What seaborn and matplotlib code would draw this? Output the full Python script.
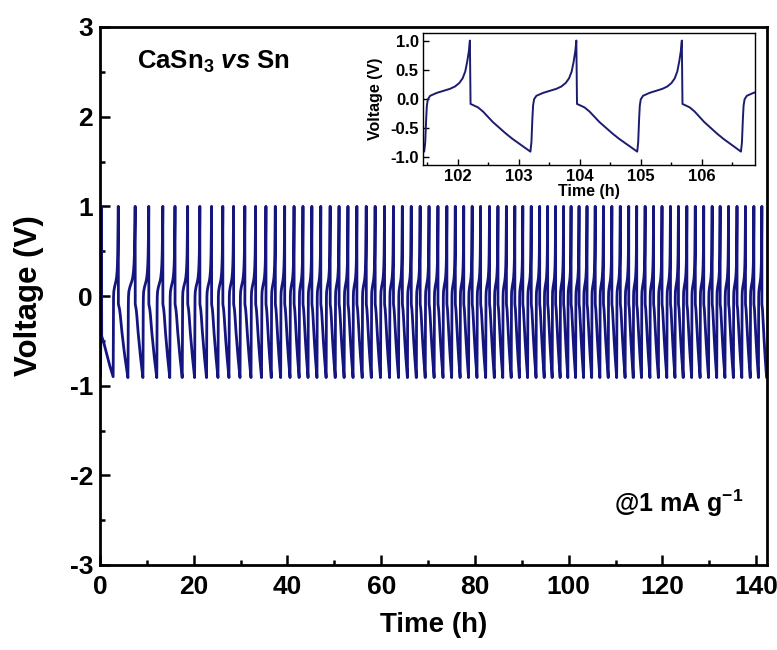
import numpy as np
import pandas as pd
import matplotlib
matplotlib.use("Agg")
import matplotlib.pyplot as plt
from matplotlib.ticker import MultipleLocator
import seaborn as sns

# ---------------- data ----------------
# times (h) of the charge-end peaks (1.0 V) in the main plot
peak_times = [
    3.9, 7.5, 10.4, 13.4, 16.0, 18.7, 21.3, 23.8, 26.2, 28.5, 30.9, 33.2,
    35.4, 37.4, 39.4, 41.4, 43.3, 45.2, 47.1, 49.1, 51.0, 52.9, 54.8, 56.8,
    58.7, 60.7, 62.6, 64.5, 66.4, 68.3,
    70.2, 72.1, 74.0, 75.8, 77.6, 79.4, 81.2, 83.1, 84.9, 86.7, 88.5,
    90.2, 92.0, 93.8, 95.5, 97.2, 98.9, 100.5, 102.2, 103.9, 105.65,
    107.4, 109.2, 111.0, 112.8, 114.5, 116.3, 118.1, 119.9, 121.7, 123.4,
    125.2, 127.0, 128.8, 130.6, 132.3, 134.1, 135.9, 137.7, 139.5, 141.2,
]
# first (formation) segment before the first charge
init_t = [0.0, 0.12, 0.30, 0.36, 0.7, 1.4, 2.1, 2.8]
init_v = [0.0, -0.90, 1.00, -0.45, -0.50, -0.64, -0.78, -0.90]

# one cycle's profile
charge_frac = [0.0, 0.022, 0.043, 0.058, 0.08, 0.13, 0.275, 0.42, 0.565,
               0.674, 0.768, 0.841, 0.899, 0.942, 0.978, 1.0]
charge_volt = [-0.91, -0.75, -0.34, -0.12, -0.01, 0.05, 0.10, 0.135, 0.17,
               0.21, 0.27, 0.35, 0.47, 0.64, 0.82, 1.0]
discharge_frac = [0.0, 0.011, 0.054, 0.135, 0.216, 0.297, 0.378, 0.486,
                  0.595, 0.703, 0.811, 0.919, 1.0]
discharge_volt = [1.0, -0.09, -0.11, -0.15, -0.22, -0.31, -0.40, -0.50,
                  -0.60, -0.69, -0.77, -0.85, -0.91]
charge_share = 0.43
last_period = 1.78

# inset: times (h) of the discharge-end minima (-0.9 V)
inset_min_times = [99.73, 101.45, 103.19, 104.94, 106.64, 108.36]

main_xticks = [0, 20, 40, 60, 80, 100, 120, 140]
main_yticks = [-3, -2, -1, 0, 1, 2, 3]
inset_xticks = [102, 103, 104, 105, 106]
inset_yticks = [-1.0, -0.5, 0.0, 0.5, 1.0]

# ---------------- build curves ----------------
def seg(t0, dur, fr, vv):
    return [t0 + f * dur for f in fr], list(vv)

T, V = list(init_t), list(init_v)
tt, vv = seg(init_t[-1], peak_times[0] - init_t[-1], charge_frac, charge_volt)
T += tt[1:]; V += vv[1:]
for p0, p1 in zip(peak_times[:-1], peak_times[1:]):
    P = p1 - p0
    dd = (1 - charge_share) * P
    tt, vv = seg(p0, dd, discharge_frac, discharge_volt)
    T += tt[1:]; V += vv[1:]
    tt, vv = seg(p0 + dd, P - dd, charge_frac, charge_volt)
    T += tt[1:]; V += vv[1:]
tt, vv = seg(peak_times[-1], (1 - charge_share) * last_period, discharge_frac, discharge_volt)
T += tt[1:]; V += vv[1:]
main_df = pd.DataFrame({"t": T, "v": V})

Ti, Vi = [], []
for m0, m1 in zip(inset_min_times[:-1], inset_min_times[1:]):
    P = m1 - m0
    cd = charge_share * P
    tt, vv = seg(m0, cd, charge_frac, charge_volt)
    Ti += tt if not Ti else tt[1:]
    Vi += vv if not Vi else vv[1:]
    tt, vv = seg(m0 + cd, P - cd, discharge_frac, discharge_volt)
    Ti += tt[1:]; Vi += vv[1:]
inset_df = pd.DataFrame({"t": Ti, "v": Vi})

# ---------------- style ----------------
sns.set_theme(style="white")
plt.rcParams["font.family"] = ["Liberation Sans", "DejaVu Sans"]
plt.rcParams["font.weight"] = "bold"
plt.rcParams["axes.unicode_minus"] = False
plt.rcParams["mathtext.fontset"] = "custom"
plt.rcParams["mathtext.rm"] = "Liberation Sans:bold"
plt.rcParams["mathtext.bf"] = "Liberation Sans:bold"
plt.rcParams["mathtext.it"] = "Liberation Sans:bold:italic"
plt.rcParams["mathtext.bfit"] = "Liberation Sans:bold:italic"
for k in ["text.color", "axes.labelcolor", "xtick.color", "ytick.color", "axes.edgecolor"]:
    plt.rcParams[k] = "black"

line_color = "#15157f"

# ---------------- plot ----------------
fig = plt.figure(figsize=(7.77, 6.5), dpi=100)
ax = fig.add_axes([100 / 777, 85 / 650, 667 / 777, 538 / 650])
sns.lineplot(data=main_df, x="t", y="v", sort=False, estimator=None,
             color=line_color, lw=2.0, ax=ax)
ax.set_xlim(0, 142.3)
ax.set_ylim(-3, 3)
ax.set_xticks(main_xticks)
ax.set_yticks(main_yticks)
ax.set_xticklabels([str(v) for v in main_xticks])
ax.set_yticklabels([str(v) for v in main_yticks])
ax.xaxis.set_minor_locator(MultipleLocator(10))
ax.yaxis.set_minor_locator(MultipleLocator(0.5))
ax.tick_params(which="both", direction="in", top=False, right=False,
               bottom=True, left=True, width=1.8, color="black", labelsize=19)
ax.tick_params(which="major", length=7)
ax.tick_params(which="minor", length=3.5)
ax.tick_params(axis="x", pad=7)
ax.tick_params(axis="y", pad=5)
for s in ax.spines.values():
    s.set_linewidth(2.0)
    s.set_color("black")
for lab in ax.get_xticklabels() + ax.get_yticklabels():
    lab.set_fontweight("bold")
ax.set_xlabel("Time (h)", fontsize=20, fontweight="bold")
ax.set_ylabel("Voltage (V)", fontsize=22.5, fontweight="bold")
ax.xaxis.set_label_coords(0.5, -0.087)
ax.yaxis.set_label_coords(-0.084, 0.5)

ax.text(0.056, 0.935, r"CaSn$_\mathbf{3}$ $\mathit{vs}$ Sn", transform=ax.transAxes,
        fontsize=18.5, fontweight="bold", va="center", ha="left")
ax.text(0.965, 0.115, r"@1 mA g$^{\mathbf{-1}}$", transform=ax.transAxes,
        fontsize=18, fontweight="bold", va="center", ha="right")

# inset
axi = fig.add_axes([423 / 777, (650 - 165) / 650, 332 / 777, 132 / 650])
axi.set_facecolor("white")
sns.lineplot(data=inset_df, x="t", y="v", sort=False, estimator=None,
             color="#1c1c6e", lw=1.4, ax=axi)
axi.set_xlim(101.43, 106.87)
axi.set_ylim(-1.14, 1.13)
axi.set_xticks(inset_xticks)
axi.set_yticks(inset_yticks)
axi.set_yticklabels([f"{v:.1f}" for v in inset_yticks])
axi.xaxis.set_minor_locator(MultipleLocator(0.5))
axi.tick_params(which="both", direction="in", top=False, right=False,
                bottom=True, left=True, width=1.0, color="black", labelsize=12, pad=3)
axi.tick_params(which="major", length=4)
axi.tick_params(which="minor", length=2)
for s in axi.spines.values():
    s.set_linewidth(1.0)
    s.set_color("black")
for lab in axi.get_xticklabels() + axi.get_yticklabels():
    lab.set_fontweight("bold")
axi.set_xlabel("Time (h)", fontsize=11.5, fontweight="bold", labelpad=0)
axi.set_ylabel("Voltage (V)", fontsize=11.5, fontweight="bold", labelpad=5)

fig.savefig("out.png", dpi=100)
